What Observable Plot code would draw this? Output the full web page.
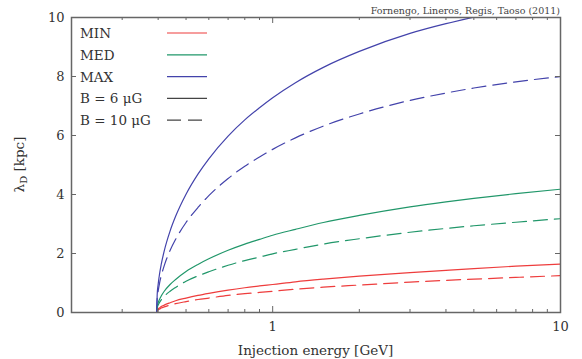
<!DOCTYPE html>
<html><head><meta charset="utf-8">
<script src="https://cdn.jsdelivr.net/npm/d3@7"></script>
<script src="https://cdn.jsdelivr.net/npm/@observablehq/plot@0.6"></script>
<style>
body{margin:0;background:#fff}
#chart svg{font-family:"DejaVu Serif",serif;overflow:visible}
</style>
</head><body><div id="chart"></div>
<script>
// Injection energy [GeV]
const energies = [0.395,0.397,0.400,0.405,0.41,0.42,0.44,0.46,0.5,0.55,0.6,0.7,0.8,0.9,1.0,1.2,1.5,2,3,4,5,7,10];
// lambda_D [kpc]
const minB6  = [0,0.07,0.12,0.16,0.20,0.25,0.33,0.40,0.49,0.58,0.65,0.76,0.84,0.90,0.95,1.04,1.13,1.23,1.35,1.43,1.49,1.57,1.64];
const minB10 = [0,0.06,0.09,0.12,0.15,0.19,0.25,0.30,0.37,0.44,0.49,0.58,0.64,0.68,0.72,0.79,0.86,0.93,1.03,1.09,1.13,1.19,1.25];
const medB6  = [0,0.21,0.33,0.46,0.56,0.72,0.95,1.12,1.39,1.63,1.82,2.11,2.32,2.48,2.62,2.82,3.05,3.29,3.58,3.75,3.87,4.03,4.18];
const medB10 = [0,0.16,0.25,0.35,0.43,0.55,0.72,0.85,1.06,1.24,1.38,1.60,1.76,1.88,1.99,2.14,2.32,2.50,2.72,2.85,2.94,3.06,3.18];
const maxB6  = [0,0.61,0.95,1.34,1.63,2.09,2.76,3.26,4.01,4.69,5.21,5.98,6.53,6.94,7.28,7.79,8.31,8.85,9.46,9.79,10.01,null,null];
const maxB10 = [0,0.46,0.72,1.02,1.24,1.59,2.10,2.48,3.05,3.56,3.96,4.54,4.96,5.27,5.53,5.92,6.32,6.73,7.19,7.44,7.61,7.82,8.00];

const models = ["MIN","MED","MAX"];
const fields = ["B = 6 μG","B = 10 μG"];
const colors = ["#ee3d3d","#21976a","#4343ab"];
const seriesValues = [[minB6,minB10],[medB6,medB10],[maxB6,maxB10]];
const xTicks = [1,10];
const xMinor = [0.2,0.3,0.4,0.5,0.6,0.7,0.8,0.9,2,3,4,5,6,7,8,9];
const yTicks = [0,2,4,6,8,10];
const credit = "Fornengo, Lineros, Regis, Taoso (2011)";

const rows = [];
models.forEach((m,i)=>fields.forEach((f,j)=>{
  seriesValues[i][j].forEach((v,k)=>{ if(v!=null) rows.push({model:m, field:f, key:m+f, E:energies[k], v}); });
}));

const W=582, H=359, mL=71, mR=22, mT=17, mB=47;
const innerH = H-mT-mB, innerW = W-mL-mR;
const frameCol = "#666";

const plot = Plot.plot({
  width:W, height:H, marginLeft:mL, marginRight:mR, marginTop:mT, marginBottom:mB,
  x:{type:"log", domain:[0.2,10]},
  y:{domain:[0,10]},
  color:{domain:models, range:colors},
  style:{fontSize:"13px", fontFamily:"DejaVu Serif, serif", color:"#333"},
  marks:[
    Plot.line(rows.filter(d=>d.field===fields[0]), {x:"E", y:"v", z:"key", stroke:"model", strokeWidth:1.2, curve:"monotone-x", clip:true}),
    Plot.line(rows.filter(d=>d.field===fields[1]), {x:"E", y:"v", z:"key", stroke:"model", strokeWidth:1.2, strokeDasharray:"14,7", curve:"monotone-x", clip:true}),
    // inward ticks
    Plot.tickX(xTicks, {x:d=>d, insetTop:innerH-6, stroke:frameCol}),
    Plot.tickX(xTicks, {x:d=>d, insetBottom:innerH-6, stroke:frameCol}),
    Plot.tickX(xMinor, {x:d=>d, insetTop:innerH-3, stroke:frameCol}),
    Plot.tickX(xMinor, {x:d=>d, insetBottom:innerH-3, stroke:frameCol}),
    Plot.tickY(yTicks, {y:d=>d, insetRight:innerW-5, stroke:frameCol}),
    Plot.tickY(yTicks, {y:d=>d, insetLeft:innerW-5, stroke:frameCol}),
    Plot.axisX(xTicks, {tickSize:0, tickPadding:9, tickFormat:d=>String(d), label:null}),
    Plot.axisY(yTicks, {tickSize:0, tickPadding:7, tickFormat:d=>String(d), label:null}),
    Plot.frame({stroke:frameCol, strokeWidth:1.5})
  ]
});
document.getElementById("chart").appendChild(plot);

const svg = d3.select(plot);
// x-axis label
svg.append("text").attr("x", mL+innerW/2).attr("y", 350).attr("text-anchor","middle")
  .attr("dominant-baseline","central").attr("fill","#333").style("font-size","13.5px").text("Injection energy [GeV]");
// y-axis label with subscript
const yl = svg.append("text").attr("transform",`translate(19,${mT+innerH/2}) rotate(-90)`)
  .attr("text-anchor","middle").attr("dominant-baseline","central").attr("fill","#333").style("font-size","13.5px");
yl.append("tspan").text("λ");
yl.append("tspan").attr("dy",4).style("font-size","10px").text("D");
yl.append("tspan").attr("dy",-4).text(" [kpc]");
// credit
svg.append("text").attr("x", W-mR).attr("y", 10).attr("text-anchor","end").attr("dominant-baseline","central")
  .attr("fill","#444").style("font-size","9.5px").text(credit);
// legend
const legendItems = [
  ...models.map((m,i)=>({label:m, color:colors[i], dash:null})),
  {label:fields[0], color:"#444", dash:null},
  {label:fields[1], color:"#444", dash:"14,7"}
];
const lg = svg.append("g").attr("text-anchor","start");
legendItems.forEach((it,i)=>{
  const y = 33 + i*21.8;
  lg.append("text").attr("x",80).attr("y",y).attr("text-anchor","start").attr("dominant-baseline","central")
    .attr("fill","#333").style("font-size","13.5px").text(it.label);
  lg.append("line").attr("x1",167).attr("x2",207).attr("y1",y).attr("y2",y)
    .attr("stroke",it.color).attr("stroke-width",1.2).attr("stroke-dasharray",it.dash);
});
</script>
</body></html>
